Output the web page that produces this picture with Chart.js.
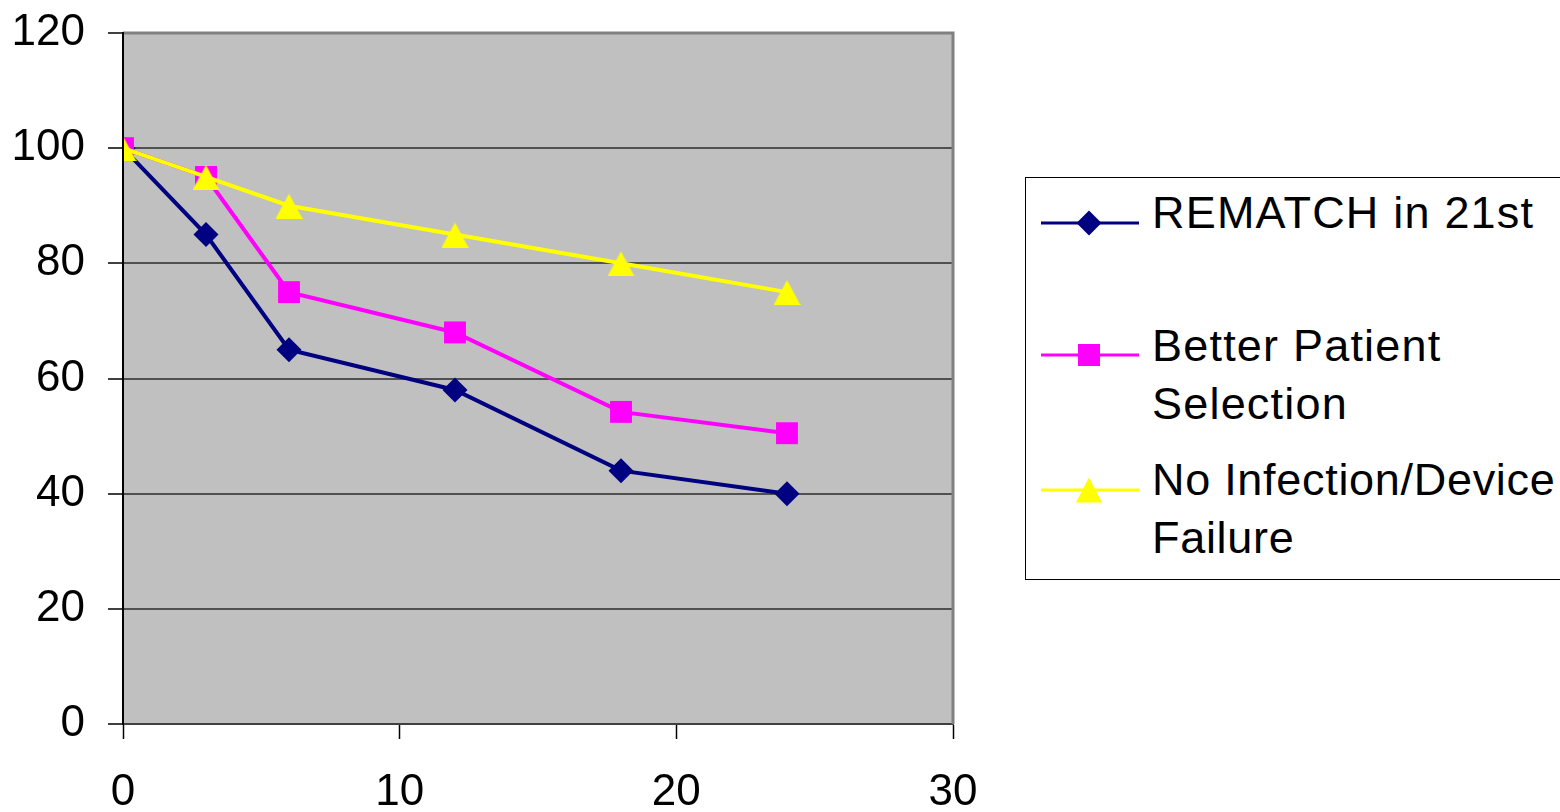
<!DOCTYPE html>
<html>
<head>
<meta charset="utf-8">
<script src="https://cdn.jsdelivr.net/npm/chart.js@4"></script>
<style>
  html, body { margin: 0; padding: 0; background: #fff; }
  #wrap { position: relative; width: 1560px; height: 812px; overflow: hidden; }
  #chart { position: absolute; left: 0; top: 0; }
  #legend { position: absolute; left: 1025px; top: 177px; width: 560px; height: 403px;
            border: 1px solid #000; box-sizing: border-box; background: #fff; }
  .lbl { position: absolute; left: 126px; font-family: "Liberation Sans", Arial, sans-serif;
         font-size: 45px; line-height: 58px; letter-spacing: 1.2px; color: #000; white-space: nowrap; }
  .lbl.tight { letter-spacing: 0.7px; }
  #legend svg { position: absolute; left: 0; top: 0; }
</style>
</head>
<body>
<div id="wrap">
  <canvas id="chart" width="1560" height="812"></canvas>
  <div id="legend"></div>
</div>
<script>
// ---- data ----
const months = [0, 3, 6, 12, 18, 24];
const rematch = [100, 85, 65, 58, 44, 40];
const betterSelection = [100, 95, 75, 68, 54.2, 50.5];
const noInfection = [100, 95, 90, 85, 80, 75];
const seriesNames = [
  ["REMATCH in 21st"],
  ["Better Patient", "Selection"],
  ["No Infection/Device", "Failure"]
];
const seriesColors = ["#000080", "#FF00FF", "#FFFF00"];
const xMin = 0, xMax = 30, xStep = 10;
const yMin = 0, yMax = 120, yStep = 20;

function pts(ys) { return months.map((m, i) => ({ x: m, y: ys[i] })); }

// custom triangle marker
function triangleMarker(color) {
  const c = document.createElement('canvas');
  c.width = 27; c.height = 26;
  const g = c.getContext('2d');
  g.fillStyle = color;
  g.beginPath();
  g.moveTo(13.5, 1);
  g.lineTo(27, 26);
  g.lineTo(0, 26);
  g.closePath();
  g.fill();
  return c;
}

const plotDecor = {
  id: 'plotDecor',
  beforeDraw(chart) {
    const { ctx, chartArea: a } = chart;
    ctx.save();
    ctx.fillStyle = '#C0C0C0';
    ctx.fillRect(a.left, a.top, a.right - a.left, a.bottom - a.top);
    ctx.restore();
  },
  afterDraw(chart) {
    const { ctx, chartArea: a } = chart;
    ctx.save();
    ctx.strokeStyle = '#808080';
    ctx.lineWidth = 3;
    ctx.beginPath();
    ctx.moveTo(a.left, a.top);
    ctx.lineTo(a.right, a.top);
    ctx.lineTo(a.right, a.bottom);
    ctx.stroke();
    ctx.strokeStyle = '#000';
    ctx.lineWidth = 2;
    ctx.beginPath();
    ctx.moveTo(a.left, a.top - 1);
    ctx.lineTo(a.left, a.bottom);
    ctx.stroke();
    ctx.restore();
  }
};

const tickFontX = { family: '"Liberation Sans", Arial, sans-serif', size: 44 };
const tickFontY = { family: '"Liberation Sans", Arial, sans-serif', size: 44, lineHeight: 0.3 };

new Chart(document.getElementById('chart'), {
  type: 'scatter',
  data: {
    datasets: [
      { label: seriesNames[0].join(' '), data: pts(rematch), showLine: true,
        borderColor: seriesColors[0], backgroundColor: seriesColors[0], borderWidth: 4,
        pointStyle: 'rectRot', pointRadius: 12.5, pointBorderWidth: 0, order: 2 },
      { label: seriesNames[1].join(' '), data: pts(betterSelection), showLine: true,
        borderColor: seriesColors[1], backgroundColor: seriesColors[1], borderWidth: 4,
        pointStyle: 'rect', pointRadius: 15.5, pointBorderWidth: 0, order: 1 },
      { label: seriesNames[2].join(' '), data: pts(noInfection), showLine: true,
        borderColor: seriesColors[2], backgroundColor: seriesColors[2], borderWidth: 4,
        pointStyle: triangleMarker(seriesColors[2]), pointRadius: 13, pointBorderWidth: 0, order: 0 }
    ]
  },
  options: {
    responsive: false,
    animation: false,
    events: [],
    layout: { padding: { left: 0, top: 33, right: 607, bottom: 0 } },
    plugins: { legend: { display: false }, tooltip: { enabled: false } },
    scales: {
      x: {
        type: 'linear', min: xMin, max: xMax,
        ticks: { stepSize: xStep, font: tickFontX, color: '#000', padding: 27, maxRotation: 0 },
        grid: { drawOnChartArea: false, drawTicks: true, tickLength: 15, tickColor: '#000', tickWidth: 1.5 },
        border: { display: true, color: '#404040', width: 2 },
        afterFit(s) { s.height = 88; }
      },
      y: {
        type: 'linear', min: yMin, max: yMax,
        ticks: { stepSize: yStep, font: tickFontY, color: '#000', padding: 23 },
        grid: { drawOnChartArea: true, color: '#505050', lineWidth: 2, drawTicks: true,
                tickLength: 15, tickColor: '#000', tickWidth: 1.5 },
        border: { display: true, color: '#000', width: 2 },
        afterFit(s) { s.width = 123; }
      }
    }
  },
  plugins: [plotDecor]
});

// ---- HTML legend ----
(function () {
  const legend = document.getElementById('legend');
  const rowLineY = [45, 177, 312];
  const rowTextTop = [6, 139, 273];
  const ns = 'http://www.w3.org/2000/svg';
  const svg = document.createElementNS(ns, 'svg');
  svg.setAttribute('width', '130'); svg.setAttribute('height', '400');
  const cx = 63;
  seriesNames.forEach((lines, i) => {
    const y = rowLineY[i];
    const ln = document.createElementNS(ns, 'line');
    ln.setAttribute('x1', 15); ln.setAttribute('x2', 113);
    ln.setAttribute('y1', y); ln.setAttribute('y2', y);
    ln.setAttribute('stroke', seriesColors[i]); ln.setAttribute('stroke-width', 3);
    svg.appendChild(ln);
    let m;
    if (i === 0) {
      m = document.createElementNS(ns, 'polygon');
      m.setAttribute('points', `${cx},${y-12.5} ${cx+12.5},${y} ${cx},${y+12.5} ${cx-12.5},${y}`);
    } else if (i === 1) {
      m = document.createElementNS(ns, 'rect');
      m.setAttribute('x', cx - 11); m.setAttribute('y', y - 11);
      m.setAttribute('width', 22); m.setAttribute('height', 22);
    } else {
      m = document.createElementNS(ns, 'polygon');
      m.setAttribute('points', `${cx},${y-12.5} ${cx+13},${y+12.5} ${cx-13},${y+12.5}`);
    }
    m.setAttribute('fill', seriesColors[i]);
    svg.appendChild(m);
    const d = document.createElement('div');
    d.className = 'lbl' + (i === 2 ? ' tight' : '');
    d.style.top = rowTextTop[i] + 'px';
    d.innerHTML = lines.join('<br>');
    legend.appendChild(d);
  });
  legend.appendChild(svg);
})();
</script>
</body>
</html>
